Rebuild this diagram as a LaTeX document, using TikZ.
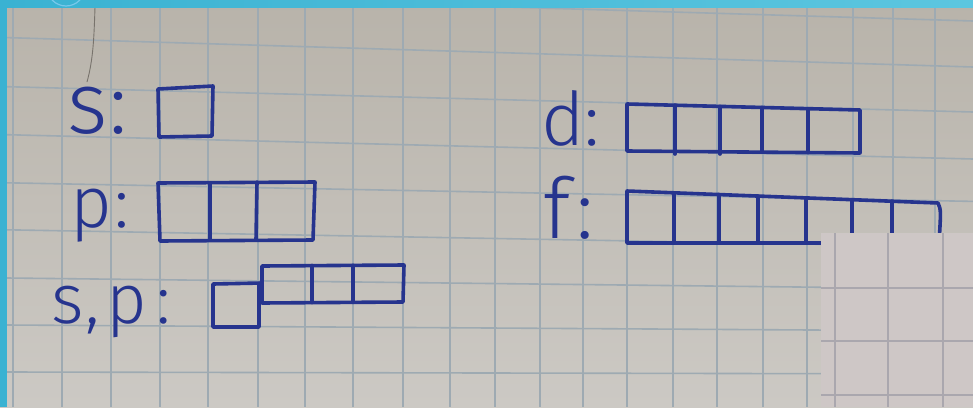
\documentclass[tikz,border=0pt]{standalone}
\usepackage{fontspec}
\newfontfamily\hand{Fira Sans Light}
\definecolor{inkblue}{RGB}{38,52,142}
\definecolor{gridc}{RGB}{158,170,178}
\definecolor{paperA}{RGB}{184,179,170}
\definecolor{paperB}{RGB}{204,201,196}
\definecolor{overlayc}{RGB}{206,199,198}
\definecolor{overlaygrid}{RGB}{170,167,174}
\definecolor{cyanA}{RGB}{58,178,210}
\definecolor{cyanB}{RGB}{92,198,224}
\definecolor{cyanL}{RGB}{120,200,235}
\definecolor{hairc}{RGB}{120,115,108}
\begin{document}
\begin{tikzpicture}[x=1pt,y=-1pt,
  ink/.style={draw=inkblue, line width=3.6pt, line join=round, line cap=round},
  gridline/.style={draw=gridc, line width=1.6pt},
  ovgrid/.style={draw=overlaygrid, line width=1.6pt},
  lbl/.style={text=inkblue, inner sep=0pt, anchor=base west}]
\useasboundingbox (0,0) rectangle (973,407);
% paper
\fill[top color=paperA, bottom color=paperB] (0,0) rectangle (973,407);
% grid
\foreach \gx in {13,62,111,160,208,258,305,353,403,450,495,540,583,627,673,717,763,807,853,893,935}
  \draw[gridline] (\gx,7) -- (\gx,407);
\foreach \yl/\yr in {-8/21,37.6/67,86.7/112,134.7/159,182.8/201.4,229.8/247,278/289,325/331,372/374}
  \draw[gridline] (7,\yl) -- (973,\yr);
% faint hair line on the paper
\draw[hairc, line width=0.9pt] (95,7) .. controls (94,40) and (93,60) .. (87,82);
% labels
\node[lbl, font=\hand\fontsize{87}{87}\selectfont] (ls) at (67,133) {s\kern2pt:};
\node[lbl, font=\hand\fontsize{72}{72}\selectfont] (lp) at (70,227) {p\kern3pt:};
\node[lbl, font=\hand\fontsize{70}{70}\selectfont] (lsp) at (51,323) {s\kern2pt,\kern6pt p\kern10pt:};
\node[lbl, font=\hand\fontsize{74}{74}\selectfont] (ld) at (541,145) {d:};
\node[lbl, font=\hand\fontsize{84}{84}\selectfont] (lf) at (543,238) {f\kern6pt:};
% s orbital
\draw[ink] (158,89) -- (213,86) -- (212,136) -- (159,137) -- cycle;
% p orbitals
\draw[ink] (158,183) -- (315,182) -- (313,240) -- (160,241) -- cycle;
\draw[ink] (210,183) -- (210,240);
\draw[ink] (257,182) -- (256,240);
% s,p
\draw[ink] (262,283) -- (213,284) -- (213,327) -- (259,327) -- (259,283);
\draw[ink] (262,266) -- (404,265) -- (403,302) -- (262,303) -- cycle;
\draw[ink] (312,265.5) -- (312,302.5);
\draw[ink] (353,265.3) -- (353,302.3);
% d orbitals
\draw[ink] (627,104) -- (860,110) -- (860,153) -- (627,151) -- cycle;
\draw[ink] (675,105.2) -- (675,154);
\draw[ink] (720,106.4) -- (720,154);
\draw[ink] (762,107.5) -- (762,152.2);
\draw[ink] (808,108.7) -- (808,152.6);
% f orbitals
\draw[ink] (627,191) -- (938,203) .. controls (941,210) .. (939,243) -- (627,243) -- cycle;
\foreach \fx/\fy in {674/192.8,719/194.5,758/196,806/197.9,852/199.7,892/201.2}
  \draw[ink] (\fx,\fy) -- (\fx,243);
% pasted overlay
\fill[overlayc] (821,233) rectangle (973,407);
\foreach \gx in {835,888,943} \draw[ovgrid] (\gx,233) -- (\gx,407);
\foreach \gy in {288,341,395} \draw[ovgrid] (821,\gy) -- (973,\gy);
% frame
\fill[left color=cyanA, right color=cyanB] (0,0) rectangle (973,7);
\fill[cyanA] (0,0) rectangle (7,407);
\begin{scope}
  \clip (0,0) rectangle (973,7);
  \draw[cyanL, line width=1.2pt] (66,-13) circle (19);
\end{scope}
\end{tikzpicture}
\end{document}
